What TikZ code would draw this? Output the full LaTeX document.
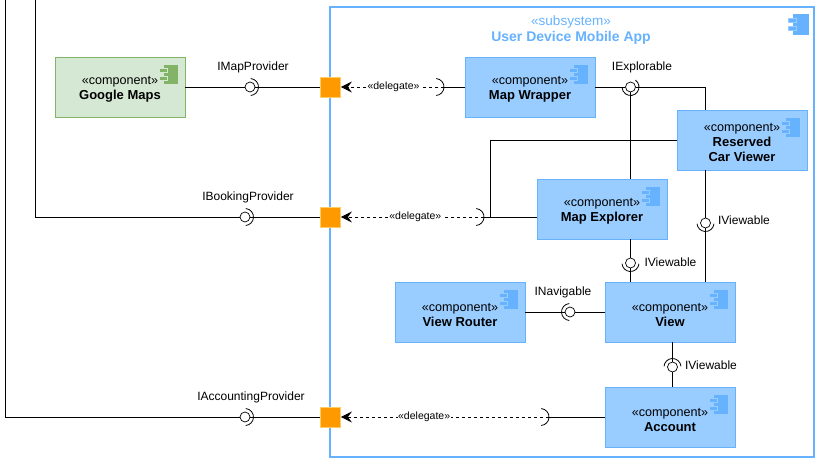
\documentclass[tikz,border=0pt]{standalone}
\usepackage{fontspec}
\setmainfont{Liberation Sans}
\usetikzlibrary{arrows.meta,positioning,calc}
\definecolor{cComp}  {RGB}{153,204,255}
\definecolor{cEdge}  {RGB}{102,178,255}
\definecolor{cGreen} {RGB}{213,232,212}
\definecolor{cGrEdge}{RGB}{130,179,102}
\definecolor{cPort}  {RGB}{255,153,0}
\definecolor{cPortE} {RGB}{255,204,102}

\newcommand{\compicon}[3]{%
  \fill[#2] ($(#1.north east)+(-21.5,8)$) rectangle ($(#1.north east)+(-7,27)$);
  \draw[fill=#2,draw=#3,line width=.6pt] ($(#1.north east)+(-26,11.5)$) rectangle ($(#1.north east)+(-18,15.5)$);
  \draw[fill=#2,draw=#3,line width=.6pt] ($(#1.north east)+(-26,19.5)$) rectangle ($(#1.north east)+(-18,23.5)$);
}
\newcommand{\complabel}[1]{\rule{0pt}{13.5pt}{\fontsize{12.6}{15}\selectfont «component»}\\{\bfseries #1}}

\begin{document}
\begin{tikzpicture}[
  x=1pt,y=-1pt,
  comp/.style={draw=cEdge,fill=cComp,line width=.9pt,minimum width=130pt,minimum height=60pt,
               inner sep=0pt,align=center,font=\fontsize{13}{15}\selectfont},
  gcomp/.style={comp,draw=cGrEdge,fill=cGreen},
  port/.style={draw=cPortE,fill=cPort,line width=.8pt,minimum size=20pt,inner sep=0pt},
  ball/.style={draw,circle,fill=white,minimum size=10pt,inner sep=0pt,line width=.7pt},
  iface/.style={font=\fontsize{12}{14}\selectfont,inner sep=0pt},
  conn/.style={line width=.9pt},
  sock/.style={line width=.8pt},
  dele/.style={dash pattern=on 3pt off 3pt,line width=.8pt,-{Stealth[length=11pt,width=11pt,inset=4pt]}},
  dlab/.style={font=\fontsize{10.5}{12}\selectfont,fill=white,inner sep=.5pt},
]
\useasboundingbox (0,0) rectangle (817,459);

% subsystem
\node[draw=cEdge,line width=1.8pt,minimum width=484pt,minimum height=450pt,inner sep=0pt] (app) at (572,232) {};
\node[text=cEdge,align=center,inner sep=0pt,font=\fontsize{14}{16}\selectfont] (applabel) at (571,30)
  {{\fontsize{13.5}{16}\selectfont «subsystem»}\\{\bfseries User Device Mobile App}};

% components
\node[gcomp] (maps)     at (120,87)  {\complabel{Google Maps}};
\node[comp]  (wrapper)  at (530,87)  {\complabel{Map Wrapper}};
\node[comp]  (reserved) at (742,140) {\complabel{Reserved}\\{\bfseries Car Viewer}};
\node[comp]  (explorer) at (602,209) {\complabel{Map Explorer}};
\node[comp]  (view)     at (670,312) {\complabel{View}};
\node[comp]  (router)   at (460,312) {\complabel{View Router}};
\node[comp]  (account)  at (670,417) {\complabel{Account}};

% icons
\compicon{maps}{cGrEdge}{cGreen}
\compicon{wrapper}{cEdge}{cComp}
\compicon{reserved}{cEdge}{cComp}
\compicon{explorer}{cEdge}{cComp}
\compicon{view}{cEdge}{cComp}
\compicon{router}{cEdge}{cComp}
\compicon{account}{cEdge}{cComp}
\fill[cEdge] (792.5,14) rectangle (808.5,34.5);
\draw[fill=cEdge,draw=cComp,line width=.6pt] (788,18.3) rectangle (796.7,22.3);
\draw[fill=cEdge,draw=cComp,line width=.6pt] (788,26) rectangle (796.7,30);

% ports
\node[port] (p1) at (330.5,87)  {};
\node[port] (p2) at (330.5,217) {};
\node[port] (p3) at (330.5,417) {};

% interfaces
\node[ball] (b1) at (250,87)  {};
\node[ball] (b2) at (245,217) {};
\node[ball] (b3) at (245,417) {};
\node[ball] (b4) at (630.5,87)  {};
\node[ball] (b5) at (705.5,223) {};
\node[ball] (b6) at (630.5,263) {};
\node[ball] (b7) at (570,312) {};
\node[ball] (b8) at (672.5,367) {};

\node[iface] at (253,67)  {IMapProvider};
\node[iface] at (248,197) {IBookingProvider};
\node[iface] at (251,397) {IAccountingProvider};
\node[iface] at (642,67)  {IExplorable};
\node[iface] at (563,292) {INavigable};
\node[iface,right=7pt of b5,yshift=3pt] {IViewable};
\node[iface,right=8.5pt of b6,yshift=1pt] {IViewable};
\node[iface,right=7pt of b8,yshift=2pt] {IViewable};

% free ends
\coordinate (out1) at (5.5,0);
\coordinate (out2) at (35.5,0);
\coordinate (s1) at (444,87);
\coordinate (s2) at (484,217);
\coordinate (s3) at (549,417);
\coordinate (j2) at (490.5,217);

% wires
\draw[conn] (out1) |- (b3);
\draw[conn] (out2) |- (b2);
\draw[conn] (b3) -- (p3);
\draw[conn] (b2) -- (p2);
\draw[conn] (maps) -- (b1);
\draw[conn] (b1) -- (p1);
\draw[conn] (wrapper) -- (b4);
\draw[conn] (b4) -| (b5 |- reserved.north);
\draw[conn] (b4) -- (b4 |- explorer.north);
\draw[conn] (b5 |- reserved.south) -- (b5);
\draw[conn] (b5) -- (b5 |- view.north);
\draw[conn] (b6 |- explorer.south) -- (b6);
\draw[conn] (b6) -- (b6 |- view.north);
\draw[conn] (router) -- (b7);
\draw[conn] (b7) -- (view);
\draw[conn] (b8 |- view.south) -- (b8);
\draw[conn] (b8) -- (b8 |- account.north);
\draw[conn] (s1) -- (wrapper);
\draw[conn] (s2) -- (s2 -| explorer.west);
\draw[conn] (s3) -- (s3 -| account.west);
\draw[conn] (reserved.west) -| (j2);

% delegates
\draw[dele] (s1) -- node[dlab,pos=.49] {«delegate»} (p1);
\draw[dele] (s2) -- node[dlab,pos=.48] {«delegate»} (p2);
\draw[dele] (s3) -- node[dlab,pos=.6] {«delegate»} (p3);

% sockets
\draw[sock] ($(b1)+(85:8.5pt)$) arc[start angle=85,end angle=-85,radius=8.5pt];
\draw[sock] ($(b2)+(85:8.5pt)$) arc[start angle=85,end angle=-85,radius=8.5pt];
\draw[sock] ($(b3)+(85:8.5pt)$) arc[start angle=85,end angle=-85,radius=8.5pt];
\draw[sock] ($(b4)+(55:8.5pt)$) arc[start angle=55,end angle=-180,radius=8.5pt];
\draw[sock] ($(b5)+(-5:8.5pt)$) arc[start angle=-5,end angle=-175,radius=8.5pt];
\draw[sock] ($(b6)+(-5:8.5pt)$) arc[start angle=-5,end angle=-175,radius=8.5pt];
\draw[sock] ($(b7)+(95:8.5pt)$) arc[start angle=95,end angle=265,radius=8.5pt];
\draw[sock] ($(b8)+(5:8.5pt)$) arc[start angle=5,end angle=175,radius=8.5pt];
\draw[sock] ($(s1)+(85:8.5pt)+(-8.5,0)$) arc[start angle=85,end angle=-85,radius=8.5pt];
\draw[sock] ($(s2)+(85:8.5pt)+(-8.5,0)$) arc[start angle=85,end angle=-85,radius=8.5pt];
\draw[sock] ($(s3)+(85:8.5pt)+(-8.5,0)$) arc[start angle=85,end angle=-85,radius=8.5pt];
\end{tikzpicture}
\end{document}
